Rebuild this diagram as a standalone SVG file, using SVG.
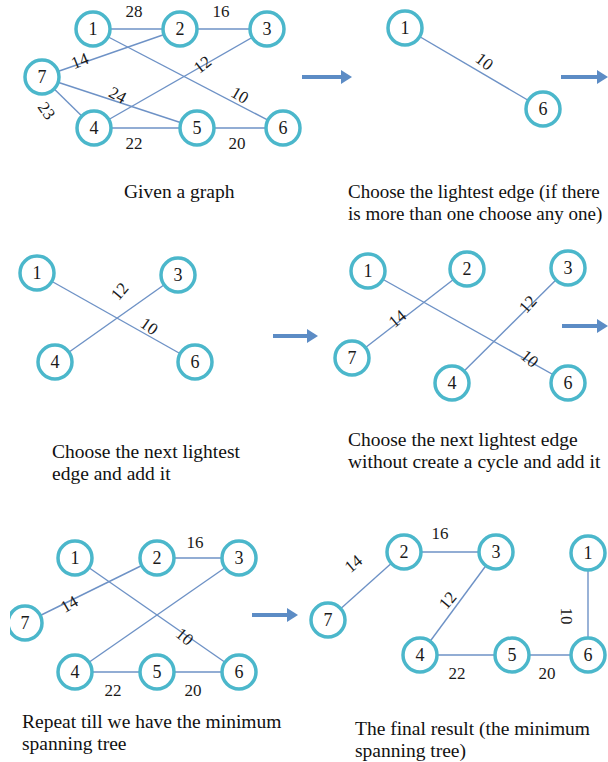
<svg xmlns="http://www.w3.org/2000/svg" width="608" height="762" viewBox="0 0 608 762">
<style>
.e{stroke:#6e92c6;stroke-width:1.4;fill:none}
.n circle{fill:#fff;stroke:#4bb7cb;stroke-width:3.5}
.n text{font-family:"Liberation Serif","Times New Roman",serif;font-size:18px;fill:#1a1a1a;text-anchor:middle}
.w{font-family:"Liberation Serif","Times New Roman",serif;font-size:17px;fill:#1a1a1a;text-anchor:middle}
.c{font-family:"Liberation Serif","Times New Roman",serif;font-size:19.5px;fill:#111}
.c2{font-size:19px}
.ar{stroke:#5c8cc5;stroke-width:4;fill:none}
.ah{fill:#5c8cc5}
</style>
<defs>
<clipPath id="clipL"><rect x="10" y="0" width="598" height="762"/></clipPath>
</defs>

<!-- connectors -->
<g id="connectors">
  <!-- panel 1 -->
  <line class="e" x1="93" y1="29" x2="180" y2="29"/>
  <line class="e" x1="180" y1="29" x2="267" y2="29"/>
  <line class="e" x1="42" y1="77" x2="180" y2="29"/>
  <line class="e" x1="93" y1="29" x2="283" y2="128"/>
  <line class="e" x1="267" y1="29" x2="94" y2="128"/>
  <line class="e" x1="42" y1="77" x2="197" y2="128"/>
  <line class="e" x1="42" y1="77" x2="94" y2="128"/>
  <line class="e" x1="94" y1="128" x2="197" y2="128"/>
  <line class="e" x1="197" y1="128" x2="283" y2="128"/>
  <!-- panel 2 -->
  <line class="e" x1="405" y1="28" x2="543" y2="109"/>
  <!-- panel 3 -->
  <line class="e" x1="37" y1="273" x2="195" y2="362"/>
  <line class="e" x1="55" y1="362" x2="178" y2="275"/>
  <!-- panel 4 -->
  <line class="e" x1="368" y1="271" x2="568" y2="383"/>
  <line class="e" x1="352" y1="358" x2="467" y2="269"/>
  <line class="e" x1="452" y1="383" x2="568" y2="268"/>
  <!-- panel 5 -->
  <line class="e" x1="157" y1="558" x2="239" y2="558"/>
  <line class="e" x1="25" y1="623" x2="157" y2="558"/>
  <line class="e" x1="75" y1="558" x2="239" y2="672"/>
  <line class="e" x1="75" y1="672" x2="239" y2="558"/>
  <line class="e" x1="75" y1="672" x2="157" y2="672"/>
  <line class="e" x1="157" y1="672" x2="239" y2="672"/>
  <!-- panel 6 -->
  <line class="e" x1="404" y1="552" x2="496" y2="552"/>
  <line class="e" x1="328" y1="620" x2="404" y2="552"/>
  <line class="e" x1="496" y1="552" x2="420" y2="655"/>
  <line class="e" x1="420" y1="655" x2="512" y2="655"/>
  <line class="e" x1="512" y1="655" x2="588" y2="655"/>
  <line class="e" x1="588" y1="553" x2="588" y2="655"/>
</g>

<!-- edge weights -->
<g id="weights">
  <text class="w" x="134" y="17">28</text>
  <text class="w" x="221" y="17">16</text>
  <text class="w" transform="translate(82,66) rotate(-22)">14</text>
  <text class="w" transform="translate(206,69) rotate(-38)">12</text>
  <text class="w" transform="translate(237,100) rotate(30)">10</text>
  <text class="w" transform="translate(115,100) rotate(28)">24</text>
  <text class="w" transform="translate(42,114) rotate(55)">23</text>
  <text class="w" x="134" y="149">22</text>
  <text class="w" x="237" y="149">20</text>

  <text class="w" transform="translate(481,66) rotate(38)">10</text>

  <text class="w" transform="translate(124,295) rotate(-50)">12</text>
  <text class="w" transform="translate(146,331) rotate(35)">10</text>

  <text class="w" transform="translate(401,323) rotate(-40)">14</text>
  <text class="w" transform="translate(532,308) rotate(-48)">12</text>
  <text class="w" transform="translate(526,363) rotate(40)">10</text>

  <text class="w" x="195" y="548">16</text>
  <text class="w" transform="translate(72,609) rotate(-30)">14</text>
  <text class="w" transform="translate(181,641) rotate(40)">10</text>
  <text class="w" x="113" y="696">22</text>
  <text class="w" x="193" y="696">20</text>

  <text class="w" x="440" y="539">16</text>
  <text class="w" transform="translate(357,568) rotate(-40)">14</text>
  <text class="w" transform="translate(452,604) rotate(-50)">12</text>
  <text class="w" transform="translate(561,616) rotate(90)">10</text>
  <text class="w" x="457" y="679">22</text>
  <text class="w" x="547" y="679">20</text>
</g>

<!-- panel 1 nodes -->
<g id="p1n1" class="n"><circle cx="93" cy="29" r="17"/><text x="93" y="35">1</text></g>
<g id="p1n2" class="n"><circle cx="180" cy="29" r="17"/><text x="180" y="35">2</text></g>
<g id="p1n3" class="n"><circle cx="267" cy="29" r="17"/><text x="267" y="35">3</text></g>
<g id="p1n7" class="n"><circle cx="42" cy="77" r="17"/><text x="42" y="83">7</text></g>
<g id="p1n4" class="n"><circle cx="94" cy="128" r="17"/><text x="94" y="134">4</text></g>
<g id="p1n5" class="n"><circle cx="197" cy="128" r="17"/><text x="197" y="134">5</text></g>
<g id="p1n6" class="n"><circle cx="283" cy="128" r="17"/><text x="283" y="134">6</text></g>

<!-- panel 2 nodes -->
<g id="p2n1" class="n"><circle cx="405" cy="28" r="17"/><text x="405" y="34">1</text></g>
<g id="p2n6" class="n"><circle cx="543" cy="109" r="17"/><text x="543" y="115">6</text></g>

<!-- panel 3 nodes -->
<g id="p3n1" class="n"><circle cx="37" cy="273" r="17"/><text x="37" y="279">1</text></g>
<g id="p3n3" class="n"><circle cx="178" cy="275" r="17"/><text x="178" y="281">3</text></g>
<g id="p3n4" class="n"><circle cx="55" cy="362" r="17"/><text x="55" y="368">4</text></g>
<g id="p3n6" class="n"><circle cx="195" cy="362" r="17"/><text x="195" y="368">6</text></g>

<!-- panel 4 nodes -->
<g id="p4n1" class="n"><circle cx="368" cy="271" r="17"/><text x="368" y="277">1</text></g>
<g id="p4n2" class="n"><circle cx="467" cy="269" r="17"/><text x="467" y="275">2</text></g>
<g id="p4n3" class="n"><circle cx="568" cy="268" r="17"/><text x="568" y="274">3</text></g>
<g id="p4n7" class="n"><circle cx="352" cy="358" r="17"/><text x="352" y="364">7</text></g>
<g id="p4n4" class="n"><circle cx="452" cy="383" r="17"/><text x="452" y="389">4</text></g>
<g id="p4n6" class="n"><circle cx="568" cy="383" r="17"/><text x="568" y="389">6</text></g>

<!-- panel 5 nodes -->
<g id="p5n1" class="n"><circle cx="75" cy="558" r="17"/><text x="75" y="564">1</text></g>
<g id="p5n2" class="n"><circle cx="157" cy="558" r="17"/><text x="157" y="564">2</text></g>
<g id="p5n3" class="n"><circle cx="239" cy="558" r="17"/><text x="239" y="564">3</text></g>
<g id="p5n7" class="n" clip-path="url(#clipL)"><circle cx="25" cy="623" r="17"/><text x="25" y="629">7</text></g>
<g id="p5n4" class="n"><circle cx="75" cy="672" r="17"/><text x="75" y="678">4</text></g>
<g id="p5n5" class="n"><circle cx="157" cy="672" r="17"/><text x="157" y="678">5</text></g>
<g id="p5n6" class="n"><circle cx="239" cy="672" r="17"/><text x="239" y="678">6</text></g>

<!-- panel 6 nodes -->
<g id="p6n2" class="n"><circle cx="404" cy="552" r="17"/><text x="404" y="558">2</text></g>
<g id="p6n3" class="n"><circle cx="496" cy="552" r="17"/><text x="496" y="558">3</text></g>
<g id="p6n1" class="n"><circle cx="588" cy="553" r="17"/><text x="588" y="559">1</text></g>
<g id="p6n7" class="n"><circle cx="328" cy="620" r="17"/><text x="328" y="626">7</text></g>
<g id="p6n4" class="n"><circle cx="420" cy="655" r="17"/><text x="420" y="661">4</text></g>
<g id="p6n5" class="n"><circle cx="512" cy="655" r="17"/><text x="512" y="661">5</text></g>
<g id="p6n6" class="n"><circle cx="588" cy="655" r="17"/><text x="588" y="661">6</text></g>

<!-- step arrows -->
<g id="arrows">
  <line class="ar" x1="302" y1="77" x2="343" y2="77"/><polygon class="ah" points="341,70 352,77 341,84"/>
  <line class="ar" x1="561" y1="77" x2="599" y2="77"/><polygon class="ah" points="597,70 608,77 597,84"/>
  <line class="ar" x1="273" y1="336" x2="309" y2="336"/><polygon class="ah" points="307,329 318,336 307,343"/>
  <line class="ar" x1="562" y1="326" x2="599" y2="326"/><polygon class="ah" points="597,319 608,326 597,333"/>
  <line class="ar" x1="252" y1="615" x2="289" y2="615"/><polygon class="ah" points="287,608 298,615 287,622"/>
</g>

<!-- captions -->
<g id="captions">
  <text class="c" x="124" y="198">Given a graph</text>
  <text class="c c2" x="348" y="198">Choose the lightest edge (if there</text>
  <text class="c c2" x="348" y="220">is more than one choose any one)</text>
  <text class="c" x="52" y="458">Choose the next lightest</text>
  <text class="c" x="52" y="480">edge and add it</text>
  <text class="c" x="348" y="446">Choose the next lightest edge</text>
  <text class="c" x="348" y="468">without create a cycle and add it</text>
  <text class="c" x="22" y="728">Repeat till we have the minimum</text>
  <text class="c" x="22" y="750">spanning tree</text>
  <text class="c" x="355" y="735">The final result (the minimum</text>
  <text class="c" x="355" y="757">spanning tree)</text>
</g>
</svg>
